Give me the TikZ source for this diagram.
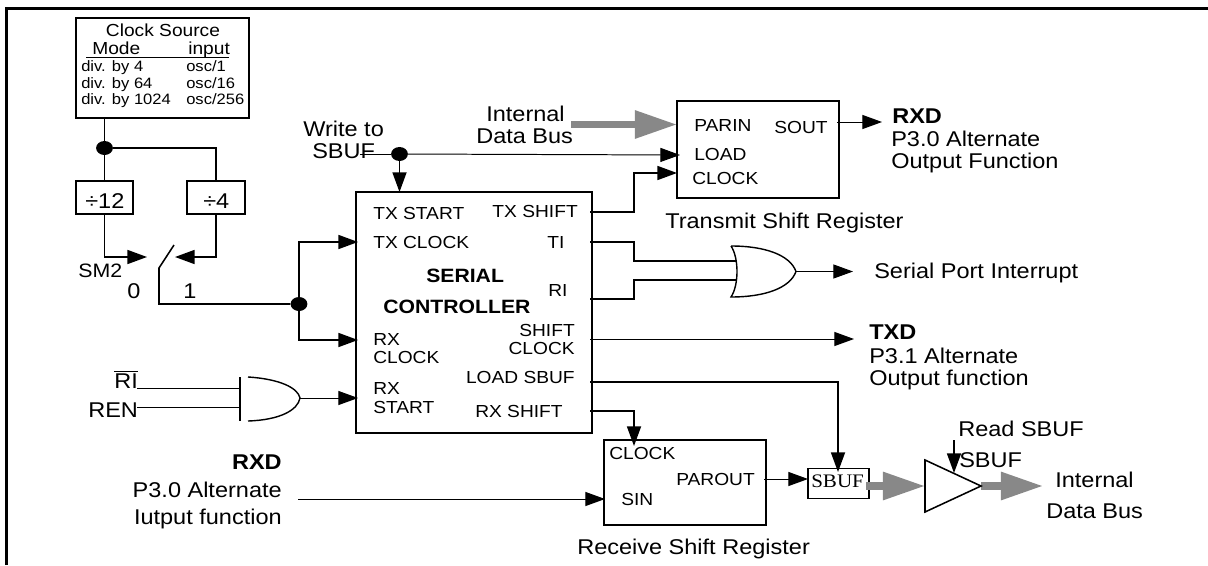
\documentclass[tikz,border=0pt]{standalone}
\usepackage{fontspec}
\setmainfont[FakeStretch=1.1]{Liberation Sans}
\newfontfamily\sbuffont[FakeStretch=1.1]{Liberation Serif}
\usetikzlibrary{positioning,shapes.geometric,arrows.meta}
\definecolor{busgray}{RGB}{136,136,136}
\newcommand{\bigtxt}{\fontsize{15.2}{18}\selectfont}
\newcommand{\midtxt}{\fontsize{12.4}{14}\selectfont}
\newcommand{\smalltxt}{\fontsize{10.7}{13}\selectfont}

\begin{document}
\begin{tikzpicture}[
  x=0.025cm, y=-0.025cm,
  box/.style={rectangle, draw, line width=1.1pt, inner sep=0pt, outer sep=0pt},
  dot/.style={ellipse, fill, inner sep=0pt, minimum width=0.42cm, minimum height=0.35cm},
  wire/.style={line width=1.1pt},
  thinwire/.style={line width=0.7pt},
  arrowed/.style={wire, -{Triangle[length=14pt,width=10pt]}},
  thinarrow/.style={thinwire, -{Triangle[length=14pt,width=10pt]}},
  bus/.style={line width=5pt, busgray, -{Triangle[length=30pt,width=19pt]}},
  big/.style={inner sep=0pt, anchor=base west, font=\bigtxt},
  bigr/.style={inner sep=0pt, anchor=base east, font=\bigtxt},
  mid/.style={inner sep=0pt, anchor=base west, font=\midtxt},
  midr/.style={inner sep=0pt, anchor=base east, font=\midtxt},
  tiny/.style={inner sep=0pt, anchor=base west, font=\smalltxt}
]
  \useasboundingbox (0,0) rectangle (1208,565);
  \draw[line width=1.5pt] (6.5,565) -- (6.5,8.5) -- (1208,8.5);

  % blocks
  \node[box, minimum width=4.325cm, minimum height=2.5cm]   (clk)  at (162.5,68)  {};
  \node[box, minimum width=1.425cm, minimum height=0.825cm] (divA) at (104.5,197.5) {};
  \node[box, minimum width=1.45cm,  minimum height=0.825cm] (divB) at (216,197.5) {};
  \node[box, minimum width=5.9cm,   minimum height=6.025cm] (ctl)  at (474,312.5) {};
  \node[box, minimum width=4.05cm,  minimum height=2.425cm] (tsr)  at (758,149.5) {};
  \node[box, minimum width=4.05cm,  minimum height=2.125cm] (rsr)  at (685,482.5) {};
  \node[box, minimum width=1.525cm, minimum height=0.75cm]  (sbuf) at (838.5,483.5) {};

  % clock box text
  \node[mid, anchor=base] (clkT) at (163,37) {Clock Source};
  \node[mid]  (clkM) at (92,55)  {Mode};
  \node[mid]  (clkI) at (188,55) {input};
  \draw[thinwire] (86,57) -- (229,57);
  \node[tiny] (clkA) at (81,71)   {div. by 4};
  \node[tiny] (clkB) at (81,88)   {div. by 64};
  \node[tiny] (clkC) at (81,104)  {div. by 1024};
  \node[tiny] (clkD) at (186,71)  {osc/1};
  \node[tiny] (clkE) at (186,88)  {osc/16};
  \node[tiny] (clkF) at (186,104) {osc/256};

  \node[big] (divAT) at (85,208)  {÷12};
  \node[big] (divBT) at (203,208) {÷4};
  \node[big, font=\fontsize{13.8}{16}\selectfont] (smT) at (78,277) {SM2};
  \node[big] (zeroT) at (127,298) {0};
  \node[big] (oneT)  at (183,298) {1};

  % clock selection
  \node[dot] (djoin) at (104.5,148) {};
  \node[dot] (dclk)  at (299,304) {};
  \coordinate (swA)   at (147,257);
  \coordinate (swB)   at (175,257);
  \coordinate (swTop) at (174,245);
  \coordinate (swPiv) at (159,268);
  \draw[wire] (djoin |- clk.south) -- (djoin);
  \draw[wire] (djoin) -- (divA.north);
  \draw[wire] (djoin) -| (divB.north);
  \draw[arrowed] (divA.south) |- (swA);
  \draw[arrowed] (divB.south) |- (swB);
  \draw[wire] (swTop) -- (swPiv) |- (dclk);
  \coordinate (ctlTxClk) at (358,242);
  \coordinate (ctlRxClk) at (358,340);
  \coordinate (ctlRxSt)  at (358,398);
  \draw[arrowed] (dclk) |- (ctlTxClk);
  \draw[arrowed] (dclk) |- (ctlRxClk);

  % controller text
  \node[mid]  (cA) at (373,219) {TX START};
  \node[midr] (cB) at (578,217) {TX SHIFT};
  \node[mid]  (cC) at (373,248) {TX CLOCK};
  \node[mid]  (cD) at (547,248) {TI};
  \node[mid, font=\fontsize{13.7}{16}\selectfont\bfseries] (cE) at (426,282) {SERIAL};
  \node[mid]  (cF) at (548,296) {RI};
  \node[mid, font=\fontsize{13.7}{16}\selectfont\bfseries] (cG) at (383,313) {CONTROLLER};
  \node[midr] (cH) at (575,336) {SHIFT};
  \node[midr] (cI) at (575,354) {CLOCK};
  \node[mid]  (cJ) at (373,345) {RX};
  \node[mid]  (cK) at (373,363) {CLOCK};
  \node[midr] (cL) at (575,383) {LOAD SBUF};
  \node[mid]  (cM) at (373,394) {RX};
  \node[mid]  (cN) at (373,413) {START};
  \node[mid]  (cO) at (475,417) {RX SHIFT};

  % transmit side
  \node[big] (wrA) at (303,136) {Write to};
  \node[big] (wrB) at (312,158) {SBUF};
  \node[big] (ibA) at (486,121) {Internal};
  \node[big] (ibB) at (476,143) {Data Bus};
  \node[mid] (tA) at (694,131) {PARIN};
  \node[mid] (tB) at (774,133) {SOUT};
  \node[mid] (tC) at (694,160) {LOAD};
  \node[mid] (tD) at (692,184) {CLOCK};
  \node[big] (tE) at (665,228) {Transmit Shift Register};
  \node[big, font=\bigtxt\bfseries] (rxdA) at (892,123) {RXD};
  \node[big] (rxdB) at (891,146) {P3.0 Alternate};
  \node[big] (rxdC) at (891,168) {Output Function};
  \node[big] (intT) at (874,278) {Serial Port Interrupt};
  \node[big, font=\bigtxt\bfseries] (txdA) at (869,339) {TXD};
  \node[big] (txdB) at (869,363) {P3.1 Alternate};
  \node[big] (txdC) at (869,385) {Output function};

  \node[dot] (dwr) at (399.5,154) {};
  \coordinate (wrFree) at (360,154);
  \coordinate (ibFree) at (571,124.5);
  \coordinate (tsrPar) at (677,124.5);
  \coordinate (tsrLoad) at (680,155);
  \coordinate (tsrClk) at (677,173);
  \coordinate (ctlTxS) at (590,212);
  \coordinate (tsrOut) at (837,122);
  \coordinate (rxdEnd) at (882,122);
  \draw[thinwire] (wrFree) -- (dwr);
  \draw[arrowed] (dwr) -- (dwr |- ctl.north);
  \draw[thinarrow] (dwr) -- (tsrLoad);
  \draw[bus] (ibFree) -- (tsrPar);
  \draw[arrowed] (ctlTxS) -- ++(44,0) |- (tsrClk);
  \draw[thinarrow] (tsrOut) -- (rxdEnd);

  % interrupt gate
  \coordinate (ctlTi) at (590,242);
  \coordinate (ctlRi) at (590,299);
  \coordinate (orA)   at (737,261);
  \coordinate (orB)   at (737,280);
  \coordinate (orOut) at (796,271.5);
  \coordinate (intEnd) at (853,271.5);
  \draw[line width=1pt] (731,246) .. controls (765,246) and (790,255) .. (orOut)
    .. controls (790,288) and (765,297) .. (731,297)
    .. controls (739,285) and (739,258) .. (731,246);
  \draw[wire] (ctlTi) -- ++(44,0) |- (orA);
  \draw[wire] (ctlRi) -- ++(44,0) |- (orB);
  \draw[thinarrow] (orOut) -- (intEnd);

  \coordinate (ctlShift) at (590,339);
  \coordinate (txdEnd)   at (854,339);
  \draw[thinarrow] (ctlShift) -- (txdEnd);

  % receive side
  \node[big] (riT)  at (114,388) {$\overline{\mbox{RI}}$};
  \node[big] (renT) at (88,417)  {REN};
  \coordinate (riEnd)  at (137,388);
  \coordinate (renEnd) at (137,407);
  \coordinate (andA)   at (240,388);
  \coordinate (andB)   at (240,407);
  \coordinate (andOut) at (300,398);
  \draw[thinwire] (riEnd) -- (andA);
  \draw[thinwire] (renEnd) -- (andB);
  \draw[line width=1pt] (240,377) -- (240,421);
  \draw[line width=1pt] (248,377) .. controls (280,379) and (298,388) .. (andOut)
    .. controls (298,410) and (280,420) .. (248,421);
  \draw[thinarrow] (andOut) -- (ctlRxSt);

  \node[bigr, font=\bigtxt\bfseries] (inA) at (282,469) {RXD};
  \node[bigr] (inB) at (282,497) {P3.0 Alternate};
  \node[bigr] (inC) at (282,524) {Iutput function};

  \node[mid] (rA) at (609,459) {CLOCK};
  \node[mid] (rB) at (676,485) {PAROUT};
  \node[mid] (rC) at (621,505) {SIN};
  \node[big] (rD) at (577,554) {Receive Shift Register};
  \node[inner sep=0pt, anchor=base west, font=\fontsize{13.6}{16}\selectfont\sbuffont] (sbufT) at (811,487) {SBUF};

  \coordinate (ctlLoad) at (590,382);
  \coordinate (ctlRxS)  at (590,411);
  \coordinate (sbufTop) at (838,472);
  \coordinate (rsrClk)  at (634,446);
  \coordinate (inFree)  at (298,499);
  \coordinate (rsrIn)   at (605,499);
  \coordinate (rsrOut)  at (764,479);
  \coordinate (sbufIn)  at (808,479);
  \draw[arrowed] (ctlLoad) -| (sbufTop);
  \draw[arrowed] (ctlRxS) -| (rsrClk);
  \draw[thinarrow] (inFree) -- (rsrIn);
  \draw[thinarrow] (rsrOut) -- (sbufIn);

  % output buffer
  \coordinate (bufIn)  at (925,486);
  \coordinate (bufOut) at (981,486);
  \coordinate (busEnd) at (1043,486);
  \coordinate (sbufR)  at (866,486);
  \coordinate (rdFree) at (954,440);
  \coordinate (rdTip)  at (954,473);
  \draw[bus] (sbufR) -- (bufIn);
  \draw[bus] (bufOut) -- (busEnd);
  \draw[line width=1.1pt] (925,460) -- (bufOut) -- (925,512) -- cycle;
  \draw[arrowed] (rdFree) -- (rdTip);
  \node[big] (rdA) at (958,436)  {Read SBUF};
  \node[big] (rdB) at (959,467)  {SBUF};
  \node[big] (obA) at (1055,487) {Internal};
  \node[big] (obB) at (1046,518) {Data Bus};
\end{tikzpicture}
\end{document}
